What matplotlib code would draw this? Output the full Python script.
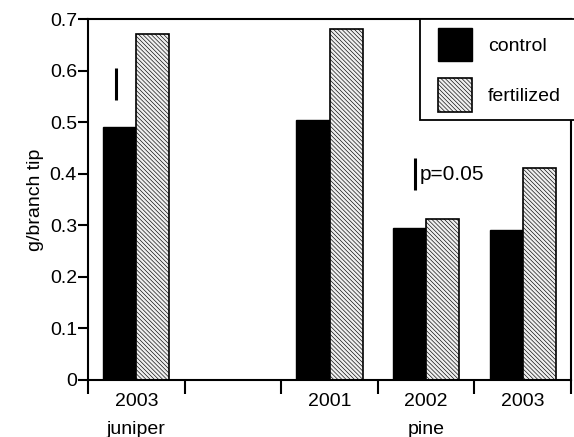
import matplotlib.pyplot as plt
from matplotlib.patches import Rectangle

# data
slots = [0.5, 2.5, 3.5, 4.5]
years = ['2003', '2001', '2002', '2003']
control = [0.49, 0.504, 0.295, 0.291]
fertilized = [0.671, 0.68, 0.312, 0.411]
groups = ['juniper', 'pine']
group_pos = [0.5, 3.5]

plt.rcParams['font.family'] = ['Liberation Sans', 'DejaVu Sans']
plt.rcParams['hatch.color'] = '#cccccc'
plt.rcParams['hatch.linewidth'] = 0.45

FS = 14
W, H = 574, 437
fig = plt.figure(figsize=(W / 100, H / 100), dpi=100)
ax = fig.add_axes([88 / W, (H - 380) / H, (571 - 88) / W, (380 - 19) / H])

bw = 0.342
b1 = ax.bar([s - bw / 2 for s in slots], control, width=bw, color='black',
            edgecolor='black', linewidth=1, label='control')
b2 = ax.bar([s + bw / 2 for s in slots], fertilized, width=bw, color='#efefef',
            edgecolor='black', linewidth=1.2, hatch='\\\\\\\\\\\\\\\\', label='fertilized')

# significance bars
ax.vlines(0.29, 0.542, 0.605, color='black', linewidth=2.2)
ax.vlines(3.39, 0.368, 0.43, color='black', linewidth=2.2)
ax.text(3.43, 0.399, 'p=0.05', fontsize=FS + 1, va='center', ha='left')

ax.set_xlim(0, 5)
ax.set_ylim(0, 0.7)
ax.set_yticks([0, 0.1, 0.2, 0.3, 0.4, 0.5, 0.6, 0.7])
ax.set_yticklabels(['0', '0.1', '0.2', '0.3', '0.4', '0.5', '0.6', '0.7'])
ax.set_xticks([0, 1, 2, 3, 4, 5])
ax.set_xticklabels([])
ax.tick_params(axis='y', direction='out', length=7, width=1.5, labelsize=FS, pad=1)
ax.tick_params(axis='x', direction='out', length=10, width=1.5)
for sp in ax.spines.values():
    sp.set_linewidth(1.5)

trans = ax.get_xaxis_transform()
for s, y in zip(slots, years):
    ax.text(s, -0.06, y, transform=trans, ha='center', va='center', fontsize=FS)
for g, p in zip(groups, group_pos):
    ax.text(p, -0.138, g, transform=trans, ha='center', va='center', fontsize=FS)

ax.set_ylabel('g/branch tip', fontsize=FS, labelpad=4)

# legend box runs off the right edge of the figure
box = Rectangle((420 / W, (H - 120) / H), 200 / W, 101 / H, transform=fig.transFigure,
                facecolor='white', edgecolor='black', linewidth=1.3, zorder=5, clip_on=False)
fig.patches.append(box)
leg = fig.legend(handles=[b1, b2], loc='upper left', bbox_to_anchor=(424 / W, (H - 14) / H),
                 frameon=False, fontsize=FS, handlelength=1.75, handleheight=2.3,
                 labelspacing=0.85, handletextpad=0.85, borderpad=0.2)
leg.set_zorder(6)

fig.savefig('out.png', dpi=100)
